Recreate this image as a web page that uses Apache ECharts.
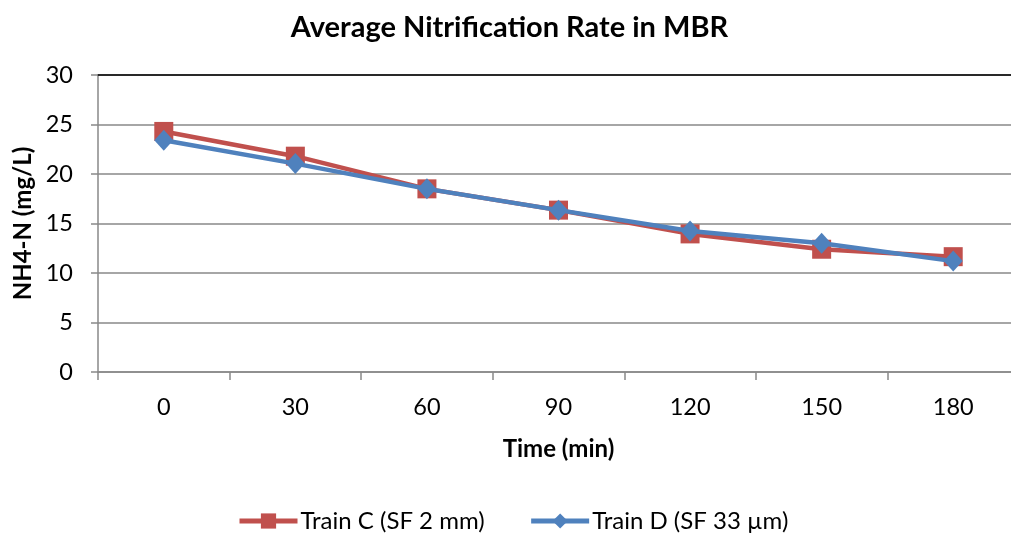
<!DOCTYPE html>
<html>
<head>
<meta charset="utf-8">
<script src="https://cdn.jsdelivr.net/npm/echarts@6/dist/echarts.min.js"></script>
<style>
  html, body { margin: 0; padding: 0; background: #fff; overflow: hidden; }
  #chart { width: 1019px; height: 534px; }
</style>
</head>
<body>
<div id="chart"></div>
<script>
// Sampling times (min)
const times = ['0', '30', '60', '90', '120', '150', '180'];
// NH4-N concentration (mg/L) for each train
const trainC = [24.3, 21.8, 18.5, 16.35, 13.95, 12.4, 11.65];
const trainD = [23.4, 21.05, 18.5, 16.35, 14.25, 13.0, 11.2];
// Value axis range
const yMin = 0, yMax = 30, yStep = 5;

const FONT = 'Lato, "Open Sans", sans-serif';
const RED = '#C0504D';
const BLUE = '#4F81BD';
const GRID = '#898989';

// the plot area runs slightly past the right edge of the window
const chart = echarts.init(document.getElementById('chart'), null, { renderer: 'canvas' });

chart.setOption({
  animation: false,
  backgroundColor: '#ffffff',
  textStyle: { fontFamily: FONT, color: '#000' },
  title: {
    text: 'Average Nitrification Rate in MBR',
    left: 'center',
    top: 8,
    textStyle: { fontFamily: FONT, fontSize: 29, fontWeight: 'bold', color: '#000' }
  },
  legend: {
    top: 504,
    left: 232,
    itemWidth: 58,
    itemHeight: 19,
    itemGap: 44,
    lineStyle: { width: 5 },
    textStyle: { fontFamily: FONT, fontSize: 24, color: '#000', padding: [0, 0, 0, -2] },
    data: ['Train C (SF 2 mm)', 'Train D (SF 33 µm)']
  },
  grid: { left: 98, right: 0, top: 75, height: 297, containLabel: false },
  xAxis: [
    {
      type: 'category',
      data: times,
      boundaryGap: true,
      name: 'Time (min)',
      nameLocation: 'middle',
      nameGap: 65,
      nameTextStyle: { fontFamily: FONT, fontSize: 24, fontWeight: 'bold', color: '#000' },
      axisLine: { lineStyle: { color: GRID, width: 1.5 } },
      axisTick: { show: true, length: 8, alignWithLabel: false, lineStyle: { color: GRID, width: 1.5 } },
      axisLabel: { fontFamily: FONT, fontSize: 23.5, color: '#000', margin: 23 },
      splitLine: { show: false }
    },
    {
      // top border of the plot area
      type: 'category',
      data: times,
      position: 'top',
      axisLine: { lineStyle: { color: '#000', width: 1.5 } },
      axisTick: { show: false },
      axisLabel: { show: false },
      splitLine: { show: false }
    }
  ],
  yAxis: {
    type: 'value',
    min: yMin,
    max: yMax,
    interval: yStep,
    name: 'NH4-N (mg/L)',
    nameLocation: 'middle',
    nameGap: 62,
    nameRotate: 90,
    nameTextStyle: { fontFamily: FONT, fontSize: 24, fontWeight: 'bold', color: '#000' },
    axisLine: { show: true, lineStyle: { color: GRID, width: 1.5 } },
    axisTick: { show: true, length: 7, lineStyle: { color: GRID, width: 1.5 } },
    axisLabel: { fontFamily: FONT, fontSize: 23.5, color: '#000', margin: 25 },
    splitLine: { show: true, lineStyle: { color: GRID, width: 1.5 } }
  },
  series: [
    {
      name: 'Train C (SF 2 mm)',
      type: 'line',
      data: trainC,
      symbol: 'rect',
      symbolSize: 19,
      lineStyle: { color: RED, width: 4.5 },
      itemStyle: { color: RED },
      z: 2
    },
    {
      name: 'Train D (SF 33 µm)',
      type: 'line',
      data: trainD,
      symbol: 'diamond',
      symbolSize: [19, 21],
      lineStyle: { color: BLUE, width: 4.5 },
      itemStyle: { color: BLUE },
      z: 3
    }
  ]
});
</script>
</body>
</html>
